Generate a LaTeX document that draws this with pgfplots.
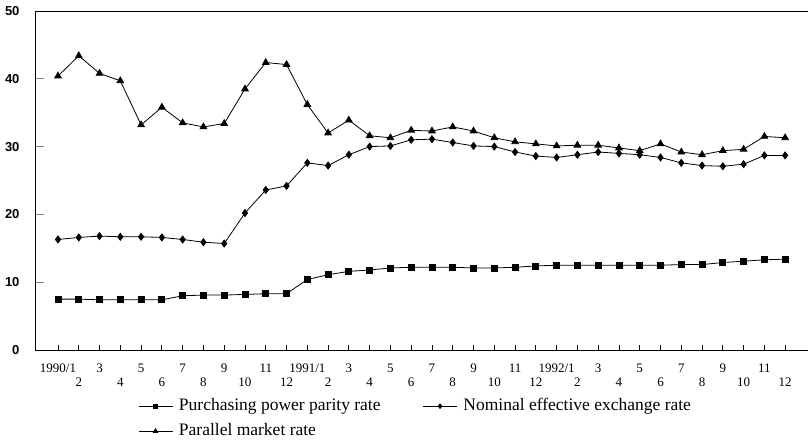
\documentclass[border=0pt]{standalone}
\usepackage{pgfplots}
\pgfplotsset{compat=1.18}
\usepackage{pgfplotstable}
\usepackage{fontspec}
\setmainfont{Liberation Serif}
\newfontfamily\tickfont{Liberation Sans}

\pgfplotstableread{
i ppp nom par
0 7.5 16.3 40.4
1 7.5 16.6 43.4
2 7.4 16.8 40.8
3 7.4 16.7 39.7
4 7.4 16.7 33.2
5 7.4 16.6 35.8
6 8.0 16.3 33.5
7 8.1 15.9 32.9
8 8.1 15.7 33.4
9 8.2 20.2 38.5
10 8.3 23.6 42.4
11 8.3 24.2 42.1
12 10.4 27.6 36.2
13 11.1 27.2 32.0
14 11.6 28.8 33.9
15 11.8 30.0 31.6
16 12.1 30.1 31.3
17 12.2 31.0 32.4
18 12.2 31.1 32.3
19 12.2 30.6 32.9
20 12.1 30.1 32.3
21 12.1 30.0 31.3
22 12.2 29.2 30.7
23 12.4 28.6 30.4
24 12.5 28.4 30.1
25 12.5 28.8 30.2
26 12.5 29.2 30.2
27 12.5 29.0 29.8
28 12.5 28.8 29.4
29 12.5 28.4 30.4
30 12.6 27.6 29.2
31 12.6 27.2 28.8
32 12.9 27.1 29.4
33 13.1 27.4 29.6
34 13.3 28.7 31.5
35 13.4 28.7 31.3
}\datatable

\begin{document}
\begin{tikzpicture}
\useasboundingbox (-35pt,-93pt) rectangle (773pt,350pt);
\begin{axis}[
 scale only axis, width=773pt, height=339pt,
 xmin=-1.107, xmax=36.1, ymin=0, ymax=50,
 axis x line*=bottom, axis y line*=left,
 axis line style={line width=0.9pt},
 ytick={0,10,...,50},
 tick align=inside,
 major tick length=9pt,
 ytick style={line width=0.8pt},
 xtick={0,2,...,34},
 xticklabels={1990/1,3,5,7,9,11,1991/1,3,5,7,9,11,1992/1,3,5,7,9,11},
 extra x ticks={1,3,...,35},
 extra x tick labels={2,4,6,8,10,12,2,4,6,8,10,12,2,4,6,8,10,12},
 xtick style={draw=none},
 extra x tick style={tick style={draw=none}, xticklabel style={yshift=-14pt}},
 xticklabel style={font=\fontsize{13}{15}\selectfont, yshift=-10pt},
 yticklabel style={font=\tickfont\bfseries\fontsize{13}{15}\selectfont, xshift=-12pt},
 /pgf/number format/assume math mode=true,
 legend columns=2,
 legend cell align=left,
 legend style={at={(0.1332,-0.1416)}, anchor=north west, draw=none, inner sep=0pt,
   font=\fontsize{17.5}{20}\selectfont,
   nodes={inner sep=0pt, text height=12pt, text depth=4pt},
   row sep=9pt,
   /tikz/every odd column/.append style={column sep=6pt},
   /tikz/every even column/.append style={column sep=42pt}},
 legend image code/.code={\draw[mark repeat=2,mark phase=2,#1,mark options={scale=0.65}] plot coordinates {(0pt,0pt) (17pt,0pt) (34pt,0pt)};},
 every axis plot/.append style={black, line width=0.8pt, mark options={solid}},
 clip=false,
]
\addplot[mark=square*, mark size=3pt] table[x=i,y=ppp]{\datatable};
\addlegendentry{Purchasing power parity rate}
\addplot[mark=diamond*, mark size=3.5pt] table[x=i,y=nom]{\datatable};
\addlegendentry{Nominal effective exchange rate}
\addplot[mark=triangle*, mark size=3.8pt] table[x=i,y=par]{\datatable};
\addlegendentry{Parallel market rate}
\draw[line width=0.9pt] (rel axis cs:0,1) -- (rel axis cs:1,1);
\pgfplotsinvokeforeach{0,...,35}{\draw[line width=0.8pt] (axis cs:#1,0) -- ++(0pt,5pt);}
\end{axis}
\end{tikzpicture}
\end{document}
